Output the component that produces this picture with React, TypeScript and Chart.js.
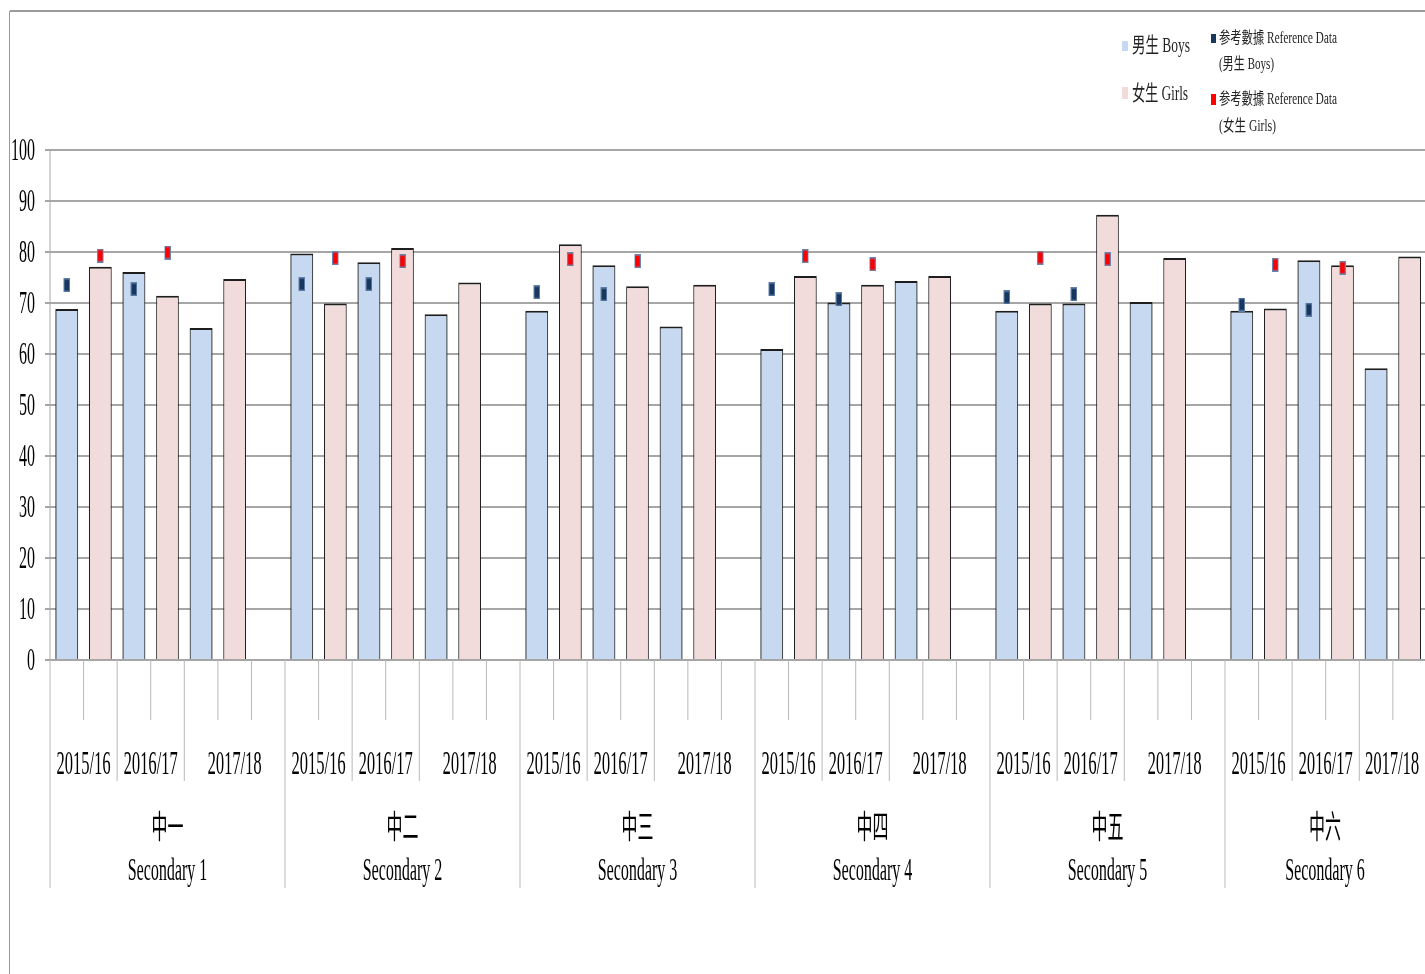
import React, { useEffect, useRef } from "react";
import { Chart, registerables } from "chart.js";

Chart.register(...registerables);

// ---------- data ----------
const groupsZh = ["中一", "中二", "中三", "中四", "中五", "中六"];
const groupsEn = ["Secondary 1", "Secondary 2", "Secondary 3", "Secondary 4", "Secondary 5", "Secondary 6"];
const years = ["2015/16", "2016/17", "2017/18"];

const boys1516 = [68.8, 79.7, 68.5, 61.0, 68.5, 68.5];
const girls1516 = [77.1, 69.9, 81.5, 75.3, 69.9, 68.9];
const boys1617 = [76.1, 78.0, 77.4, 70.1, 69.9, 78.4];
const girls1617 = [71.4, 80.8, 73.3, 73.6, 87.3, 77.4];
const boys1718 = [65.1, 67.8, 65.4, 74.3, 70.2, 57.2];
const girls1718 = [74.7, 74.0, 73.6, 75.3, 78.8, 79.1];

const refBoys1516 = [73.5, 73.7, 72.1, 72.7, 71.1, 69.7];
const refGirls1516 = [79.3, 78.8, 78.6, 79.2, 78.9, 77.5];
const refBoys1617 = [72.7, 73.7, 71.7, 70.7, 71.7, 68.7];
const refGirls1617 = [79.9, 78.2, 78.2, 77.6, 78.6, 76.9];

const yMin = 0;
const yMax = 100;
const yStep = 10;

const legendBoys = "男生 Boys";
const legendGirls = "女生 Girls";
const legendRefLine1 = "参考數據 Reference Data";
const legendRefBoys2 = "(男生 Boys)";
const legendRefGirls2 = "(女生 Girls)";

// ---------- styling / layout ----------
const SX = 2; // horizontal supersampling (text appears condensed)
const CSS_W = 1480;
const CSS_H = 974;
const VIEW_W = 1425;
const SLOTS_PER_GROUP = 7;

const BOYS_FILL = "#c6d9f1";
const GIRLS_FILL = "#f2dcdb";
const REF_BOYS_FILL = "#17375e";
const REF_GIRLS_FILL = "#ff0000";
const SERIF = '"Liberation Serif", "Times New Roman", "Noto Sans CJK TC", serif';
const CJK = '"Noto Sans CJK TC", "Noto Sans CJK SC", sans-serif';

// ---------- build slot arrays ----------
const nSlots = groupsZh.length * SLOTS_PER_GROUP;
const slotLabels: string[] = [];
const boysData: (number | null)[] = [];
const girlsData: (number | null)[] = [];
const refBoysData: (number | null)[] = [];
const refGirlsData: (number | null)[] = [];
groupsZh.forEach((g, gi) => {
  const b = [boys1516[gi], boys1617[gi], boys1718[gi]];
  const gg = [girls1516[gi], girls1617[gi], girls1718[gi]];
  const rb = [refBoys1516[gi], refBoys1617[gi], null];
  const rg = [refGirls1516[gi], refGirls1617[gi], null];
  for (let k = 0; k < SLOTS_PER_GROUP; k++) {
    slotLabels.push(`${g}-${k}`);
    const yi = Math.floor(k / 2);
    const isBoy = k % 2 === 0 && k < 6;
    const isGirl = k % 2 === 1 && k < 6;
    boysData.push(isBoy ? b[yi] : null);
    girlsData.push(isGirl ? gg[yi] : null);
    refBoysData.push(isBoy ? (rb[yi] as number | null) : null);
    refGirlsData.push(isGirl ? (rg[yi] as number | null) : null);
  }
});

function makeMarker(fill: string, ring: string): HTMLCanvasElement {
  const c = document.createElement("canvas");
  c.width = 13;
  c.height = 14;
  const ctx = c.getContext("2d")!;
  ctx.fillStyle = ring;
  ctx.fillRect(0, 0, 13, 14);
  ctx.fillStyle = fill;
  ctx.fillRect(2, 1.5, 9, 11);
  return c;
}

function fitText(
  ctx: CanvasRenderingContext2D,
  text: string,
  xCss: number,
  yBase: number,
  font: string,
  widthCss: number
) {
  ctx.save();
  ctx.font = font;
  const w = ctx.measureText(text).width;
  const target = widthCss * SX;
  ctx.translate(xCss * SX, yBase);
  ctx.scale(target / w, 1);
  ctx.textAlign = "left";
  ctx.textBaseline = "alphabetic";
  ctx.fillText(text, 0, 0);
  ctx.restore();
}

const decorPlugin = {
  id: "decor",
  afterDraw(chart: any) {
    const ctx: CanvasRenderingContext2D = chart.ctx;
    const xs = chart.scales.x;
    const bottom = chart.chartArea.bottom;
    const slot = (xs.right - xs.left) / nSlots;
    const visRight = VIEW_W * SX;
    const edge = (i: number) => xs.left + i * slot;
    const spanCenter = (a: number, b: number) => (edge(a) + Math.min(edge(b), visRight)) / 2;
    ctx.save();

    // outer frame
    ctx.strokeStyle = "#9a9a9a";
    ctx.lineWidth = 2;
    ctx.beginPath();
    ctx.moveTo(10 * SX, 11);
    ctx.lineTo(chart.width, 11);
    ctx.moveTo(9.5 * SX, 11);
    ctx.lineTo(9.5 * SX, CSS_H);
    ctx.stroke();

    // category separators below the axis
    ctx.strokeStyle = "#b8b8b8";
    ctx.lineWidth = 2;
    for (let i = 0; i <= nSlots; i++) {
      const k = i % SLOTS_PER_GROUP;
      const x = edge(i);
      let end = 720;
      if (k === 0) end = 888;
      else if (k === 2 || k === 4) end = 781;
      ctx.beginPath();
      ctx.moveTo(x, bottom);
      ctx.lineTo(x, end);
      ctx.stroke();
    }

    // year labels
    ctx.fillStyle = "#000";
    ctx.textAlign = "center";
    ctx.textBaseline = "alphabetic";
    ctx.font = `33px ${SERIF}`;
    groupsZh.forEach((_, gi) => {
      const base = gi * SLOTS_PER_GROUP;
      ctx.fillText(years[0], spanCenter(base, base + 2), 774);
      ctx.fillText(years[1], spanCenter(base + 2, base + 4), 774);
      ctx.fillText(years[2], spanCenter(base + 4, base + 7), 774);
    });

    // group labels
    groupsZh.forEach((g, gi) => {
      const base = gi * SLOTS_PER_GROUP;
      const cx = spanCenter(base, base + SLOTS_PER_GROUP);
      ctx.font = `32px ${CJK}`;
      ctx.textBaseline = "middle";
      ctx.fillText(g, cx, 826);
      ctx.font = `32px ${SERIF}`;
      ctx.textBaseline = "alphabetic";
      ctx.fillText(groupsEn[gi], cx, 880);
    });

    // legend
    const sw = (x: number, y: number, w: number, h: number, c: string) => {
      ctx.fillStyle = c;
      ctx.fillRect(x * SX, y, w * SX, h);
    };
    sw(1122, 41, 6, 10, BOYS_FILL);
    sw(1122, 87, 6, 12, GIRLS_FILL);
    sw(1211, 34, 5, 9, REF_BOYS_FILL);
    sw(1211, 94, 5, 11, REF_GIRLS_FILL);
    ctx.fillStyle = "#222";
    fitText(ctx, legendBoys, 1132, 52, `21px ${SERIF}`, 58);
    fitText(ctx, legendGirls, 1132, 100, `21px ${SERIF}`, 56);
    fitText(ctx, legendRefLine1, 1219, 43, `16px ${SERIF}`, 118);
    fitText(ctx, legendRefBoys2, 1219, 69, `16px ${SERIF}`, 55);
    fitText(ctx, legendRefLine1, 1219, 104, `16px ${SERIF}`, 118);
    fitText(ctx, legendRefGirls2, 1219, 131, `16px ${SERIF}`, 57);

    ctx.restore();
  },
};

export default function App() {
  const ref = useRef<HTMLCanvasElement>(null);

  useEffect(() => {
    document.body.style.margin = "0";
    document.body.style.overflow = "hidden";
    const canvas = ref.current;
    if (!canvas) return;

    const markerBoys = makeMarker(REF_BOYS_FILL, "#5f7fa8");
    const markerGirls = makeMarker(REF_GIRLS_FILL, "#6a86b0");

    const chart = new Chart(canvas, {
      type: "bar",
      data: {
        labels: slotLabels,
        datasets: [
          {
            type: "bar",
            label: legendBoys,
            data: boysData,
            backgroundColor: BOYS_FILL,
            borderColor: "#1e1e1e",
            borderWidth: 2,
            grouped: false,
            categoryPercentage: 1,
            barPercentage: 0.676,
            order: 2,
          } as any,
          {
            type: "bar",
            label: legendGirls,
            data: girlsData,
            backgroundColor: GIRLS_FILL,
            borderColor: "#1e1e1e",
            borderWidth: 2,
            grouped: false,
            categoryPercentage: 1,
            barPercentage: 0.676,
            order: 2,
          } as any,
          {
            type: "line",
            label: legendRefLine1 + " " + legendRefBoys2,
            data: refBoysData,
            showLine: false,
            pointStyle: markerBoys,
            pointRadius: 5,
            order: 0,
          } as any,
          {
            type: "line",
            label: legendRefLine1 + " " + legendRefGirls2,
            data: refGirlsData,
            showLine: false,
            pointStyle: markerGirls,
            pointRadius: 5,
            order: 0,
          } as any,
        ],
      },
      options: {
        responsive: false,
        animation: false,
        devicePixelRatio: 1,
        layout: { padding: { left: 0, right: 40, top: 150, bottom: CSS_H - 660 } },
        plugins: {
          legend: { display: false },
          tooltip: { enabled: false },
          title: { display: false },
        },
        scales: {
          x: {
            type: "category",
            offset: true,
            ticks: { display: false },
            grid: { display: false },
            border: { display: false },
            afterFit: (s: any) => {
              s.height = 0;
            },
          },
          y: {
            min: yMin,
            max: yMax,
            ticks: {
              stepSize: yStep,
              color: "#000",
              padding: 20,
              labelOffset: 2,
              font: { family: SERIF, size: 32 },
            },
            grid: { color: "#a6a6a6", lineWidth: 2, tickLength: 10, drawTicks: true },
            border: { display: true, color: "#a6a6a6", width: 2 },
            afterFit: (s: any) => {
              s.width = 100;
            },
          },
        },
      } as any,
      plugins: [decorPlugin],
    });

    return () => chart.destroy();
  }, []);

  return (
    <div style={{ width: VIEW_W, height: CSS_H, overflow: "hidden", position: "relative", background: "#fff" }}>
      <canvas
        ref={ref}
        width={CSS_W * SX}
        height={CSS_H}
        style={{ width: `${CSS_W}px`, height: `${CSS_H}px`, display: "block" }}
      />
    </div>
  );
}
